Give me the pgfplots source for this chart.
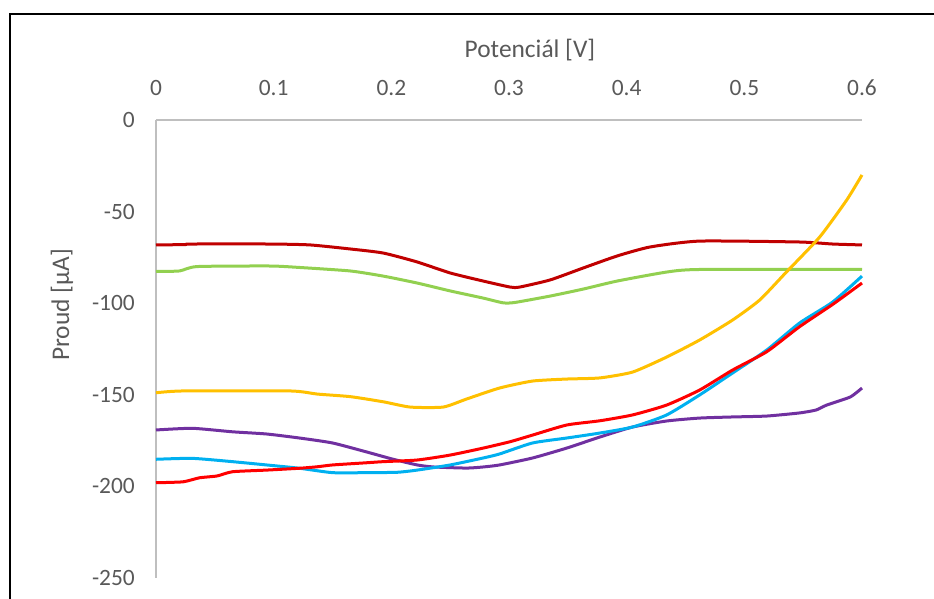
\documentclass[border=0pt]{standalone}
\usepackage{pgfplots}
\pgfplotsset{compat=1.18}
\usepackage{fontspec}
\setmainfont{Carlito}

\definecolor{txtgray}{HTML}{595959}
\definecolor{axgray}{HTML}{BFBFBF}
\definecolor{cdarkred}{HTML}{C00000}
\definecolor{cgreen}{HTML}{92D050}
\definecolor{cyellow}{HTML}{FFC000}
\definecolor{cpurple}{HTML}{7030A0}
\definecolor{cblue}{HTML}{00B0F0}
\definecolor{cred}{HTML}{FF0000}

\begin{document}
\begin{tikzpicture}
\fontsize{11.7}{14}\selectfont
% page area and the chart frame, which runs past the right and bottom edges
\path[use as bounding box] (0,0) rectangle (467pt,299.5pt);
\begin{scope}
\clip (0,0) rectangle (467pt,299.5pt);
\draw[black, line width=1.1pt] (5pt,292.5pt) rectangle (520pt,-30pt);
\end{scope}

\begin{axis}[
  at={(78pt,10.5pt)}, anchor=south west,
  scale only axis, width=353pt, height=229pt,
  xmin=0, xmax=0.6, ymin=-250, ymax=0,
  axis x line=top, axis y line=left,
  axis line style={draw=axgray, line width=1pt, -},
  major tick length=0pt,
  xtick={0,0.1,0.2,0.3,0.4,0.5,0.6},
  xticklabels={0,0.1,0.2,0.3,0.4,0.5,0.6},
  ytick={-250,-200,-150,-100,-50,0},
  yticklabels={-250,-200,-150,-100,-50,0},
  tick label style={text=txtgray, font=\fontsize{11.7}{14}\selectfont},
  xticklabel style={yshift=8pt},
  yticklabel style={xshift=-6.5pt},
  clip=false,
  every axis plot/.append style={line width=1.5pt, line join=round, smooth, tension=0.35},
]
% dark red
\addplot[cdarkred] coordinates {
(0,-68.2)(0.025,-68.0)(0.029,-67.7)(0.097,-67.7)(0.131,-68.2)(0.165,-70.4)
(0.193,-72.6)(0.222,-77.5)(0.250,-83.5)(0.278,-87.9)(0.301,-91.2)(0.309,-91.2)
(0.335,-87.3)(0.363,-80.8)(0.392,-74.2)(0.420,-69.3)(0.462,-66.1)(0.547,-66.6)
(0.575,-67.7)(0.6,-68.2)};
% green
\addplot[cgreen] coordinates {
(0,-82.7)(0.020,-82.4)(0.035,-80.0)(0.097,-79.7)(0.122,-80.5)(0.165,-82.4)
(0.193,-85.2)(0.222,-89.0)(0.250,-93.3)(0.278,-97.2)(0.295,-99.8)(0.305,-99.6)
(0.335,-96.1)(0.363,-92.3)(0.392,-87.9)(0.434,-83.0)(0.462,-81.6)(0.6,-81.6)};
% yellow
\addplot[cyellow] coordinates {
(0,-148.9)(0.023,-147.9)(0.114,-147.9)(0.137,-149.6)(0.165,-151.0)(0.193,-153.8)
(0.216,-156.7)(0.244,-156.7)(0.264,-152.3)(0.292,-146.3)(0.320,-142.5)(0.349,-141.4)
(0.377,-140.8)(0.405,-137.6)(0.434,-129.4)(0.462,-120.1)(0.490,-109.2)(0.513,-98.3)
(0.535,-83.5)(0.564,-63.9)(0.587,-43.7)(0.6,-30.0)};
% purple
\addplot[cpurple] coordinates {
(0,-169.2)(0.031,-168.3)(0.065,-170.2)(0.094,-171.4)(0.122,-173.6)(0.150,-176.3)
(0.179,-181.2)(0.201,-185.1)(0.222,-188.3)(0.236,-189.4)(0.264,-190.0)(0.278,-189.4)
(0.292,-188.3)(0.320,-184.5)(0.349,-179.1)(0.377,-173.1)(0.405,-167.6)(0.434,-164.3)
(0.462,-162.7)(0.490,-162.1)(0.519,-161.6)(0.547,-159.9)(0.561,-158.3)(0.570,-155.6)
(0.590,-151.2)(0.6,-146.3)};
% blue
\addplot[cblue] coordinates {
(0,-185.2)(0.031,-184.7)(0.065,-186.5)(0.094,-188.3)(0.122,-190.1)(0.150,-192.5)
(0.179,-192.5)(0.205,-192.3)(0.222,-191.1)(0.250,-188.3)(0.278,-184.5)(0.292,-182.3)
(0.320,-176.3)(0.349,-173.6)(0.377,-170.9)(0.405,-167.6)(0.434,-161.0)(0.462,-150.1)
(0.490,-138.1)(0.519,-125.6)(0.547,-110.8)(0.575,-99.4)(0.6,-85.2)};
% red
\addplot[cred] coordinates {
(0,-198.0)(0.023,-197.5)(0.037,-195.3)(0.052,-194.3)(0.065,-192.0)(0.094,-191.1)
(0.122,-190.1)(0.137,-189.3)(0.150,-188.3)(0.179,-187.1)(0.193,-186.5)(0.222,-185.6)
(0.250,-182.9)(0.278,-179.1)(0.301,-175.6)(0.320,-172.0)(0.349,-166.5)(0.377,-164.2)
(0.405,-161.0)(0.434,-155.6)(0.462,-147.4)(0.490,-136.5)(0.519,-126.5)(0.547,-112.8)
(0.575,-100.7)(0.6,-89.0)};
\end{axis}

% axis titles
\node[text=txtgray, font=\fontsize{12.7}{15}\selectfont] at (265pt,274.5pt) {Potenciál [V]};
\node[text=txtgray, font=\fontsize{12.7}{15}\selectfont, rotate=90] at (31pt,147pt) {Proud [µA]};
\end{tikzpicture}
\end{document}
